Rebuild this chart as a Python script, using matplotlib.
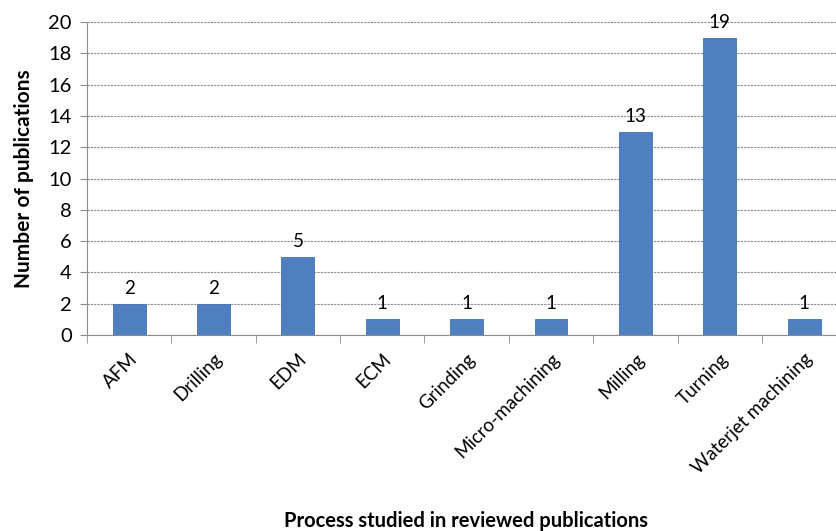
import matplotlib.pyplot as plt
import numpy as np

processes = ['AFM', 'Drilling', 'EDM', 'ECM', 'Grinding', 'Micro-machining',
             'Milling', 'Turning', 'Waterjet machining']
publications = [2, 2, 5, 1, 1, 1, 13, 19, 1]

plt.rcParams['font.family'] = ['Lato', 'DejaVu Sans']

fig = plt.figure(figsize=(8.37, 5.31), dpi=100)
ax = fig.add_axes([0.104, 0.369, 0.896, 0.5896])

x = np.arange(len(processes))
ax.bar(x, publications, width=0.39, color='#4f7fbe', edgecolor='#4272b2',
       linewidth=0.6, zorder=3)
for xi, v in zip(x, publications):
    ax.text(xi, v + 0.45, str(v), ha='center', va='bottom', fontsize=13.5)

ax.set_ylim(0, 20)
ax.set_yticks(range(0, 21, 2))
ax.set_xlim(-0.5, 8.39)
ax.yaxis.grid(True, color='#8c8c8c', linestyle=(0, (2, 1)), linewidth=0.8, zorder=0)

# category boundary ticks on the x axis
ax.set_xticks(x - 0.5, minor=True)
ax.set_xticks(x)
ax.set_xticklabels(processes, rotation=45, ha='right', rotation_mode='anchor',
                   fontsize=13.5)
ax.tick_params(axis='x', which='major', length=0, pad=11)
ax.tick_params(axis='x', which='minor', length=6, color='#8c8c8c')
ax.tick_params(axis='y', length=5, color='#8c8c8c', labelsize=14.5, pad=6)

for side in ['top', 'right']:
    ax.spines[side].set_visible(False)
for side in ['left', 'bottom']:
    ax.spines[side].set_color('#8c8c8c')

ax.set_ylabel('Number of publications', fontsize=15, fontweight='bold', labelpad=10)
fig.text(0.557, 0.008, 'Process studied in reviewed publications', ha='center',
         fontsize=14.5, fontweight='bold')

fig.savefig('out.png', dpi=100)
